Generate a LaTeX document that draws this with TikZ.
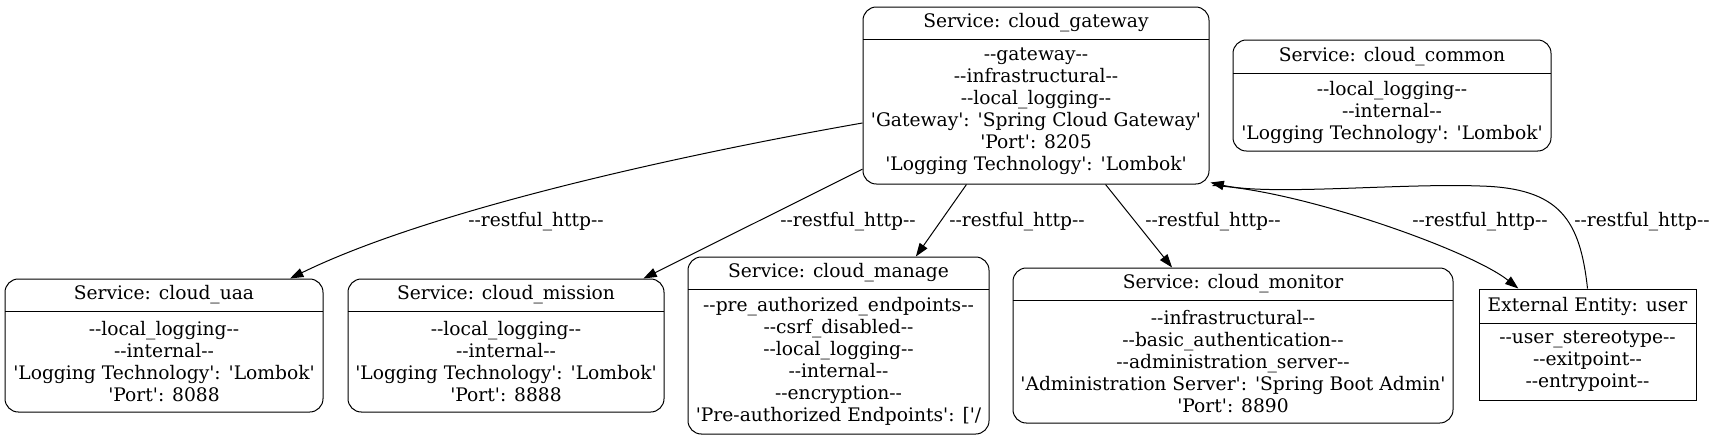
\documentclass[tikz,border=0pt]{standalone}
\usepackage{fontspec}
\setmainfont{DejaVu Serif}[Ligatures=TeXOff]
\usetikzlibrary{arrows.meta,fit,calc}
\newcommand\mkbox[9]{%
  \node[#2, fit={(#3,#4) (#5,#6)}] (#1) {};
  \draw[line width=0.75pt] (#3,#7) -- (#5,#7);
  \node[txt] (#1-t) at ({(#3+#5)/2},{(#4+#7)/2}) {#8};
  \node[txt] (#1-b) at ({(#3+#5)/2},{(#7+#6)/2}) {#9};
}
\begin{document}
\begin{tikzpicture}[x=0.75pt,y=-0.75pt,
  every node/.style={font=\fontsize{14pt}{16.5pt}\selectfont},
  frame/.style={draw, line width=0.75pt, inner sep=0pt, rounded corners=10pt},
  plainframe/.style={draw, line width=0.75pt, inner sep=0pt},
  txt/.style={align=center, inner sep=0pt},
  lbl/.style={inner sep=0pt},
  edge/.style={draw, line width=0.75pt, -{Triangle[length=10pt,width=7pt]}},
]
\useasboundingbox (0,0) rectangle (1715,440);

\mkbox{gw}{frame}{863}{7}{1209}{184}{39}{Service: cloud\_gateway}%
  {--gateway--\\--infrastructural--\\--local\_logging--\\'Gateway': 'Spring Cloud Gateway'\\'Port': 8205\\'Logging Technology': 'Lombok'}
\mkbox{common}{frame}{1233}{40}{1551}{151}{73}{Service: cloud\_common}%
  {--local\_logging--\\--internal--\\'Logging Technology': 'Lombok'}
\mkbox{uaa}{frame}{5}{279}{323}{412}{311}{Service: cloud\_uaa}%
  {--local\_logging--\\--internal--\\'Logging Technology': 'Lombok'\\'Port': 8088}
\mkbox{mission}{frame}{348}{279}{664}{412}{311}{Service: cloud\_mission}%
  {--local\_logging--\\--internal--\\'Logging Technology': 'Lombok'\\'Port': 8888}
\mkbox{manage}{frame}{688}{257}{989}{434}{289}{Service: cloud\_manage}%
  {--pre\_authorized\_endpoints--\\--csrf\_disabled--\\--local\_logging--\\--internal--\\--encryption--\\'Pre-authorized Endpoints': ['/}
\mkbox{monitor}{frame}{1013}{268}{1453}{423}{300}{Service: cloud\_monitor}%
  {--infrastructural--\\--basic\_authentication--\\--administration\_server--\\'Administration Server': 'Spring Boot Admin'\\'Port': 8890}
\mkbox{user}{plainframe}{1479}{289}{1696}{400}{323}{External Entity: user}%
  {--user\_stereotype--\\--exitpoint--\\--entrypoint--}

\draw[edge] (gw.189.4) .. controls (680,155) and (430,210) .. (uaa.28.4);
\draw[edge] (gw.203.4) -- (mission.26.4);
\draw[edge] (gw.232.1) -- (manage.49.9);
\draw[edge] (gw.308.7) -- (monitor.128.2);
\draw[edge] ([shift={(3,1)}]gw.south east) .. controls (1300,190) and (1470,250) .. (user.141.8);
\draw[edge] (user.north) .. controls (1580,220) and (1560,188) .. (1480,186)
  .. controls (1400,183) and (1270,196) .. ([shift={(1,-2)}]gw.south east);

\node[lbl] (l1) at (536,222) {--restful\_http--};
\node[lbl] (l2) at (848,222) {--restful\_http--};
\node[lbl] (l3) at (1017,222) {--restful\_http--};
\node[lbl] (l4) at (1213,222) {--restful\_http--};
\node[lbl] (l5) at (1480,222) {--restful\_http--};
\node[lbl] (l6) at (1642,222) {--restful\_http--};
\end{tikzpicture}
\end{document}
